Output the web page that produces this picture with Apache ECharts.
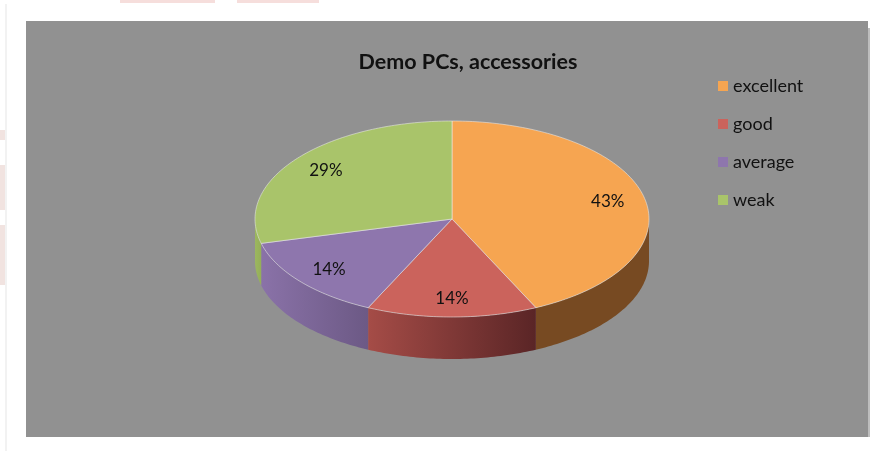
<!DOCTYPE html>
<html>
<head>
<meta charset="utf-8">
<script src="https://cdn.jsdelivr.net/npm/echarts@6/dist/echarts.min.js"></script>
<style>
  html, body { margin: 0; padding: 0; background: #ffffff; }
  #chart { width: 890px; height: 451px; }
</style>
</head>
<body>
<div id="chart"></div>
<script>
// Ratings for demo PCs and accessories (percent of answers)
const categories = ['excellent', 'good', 'average', 'weak'];
const values = [43, 14, 14, 29];
const title = 'Demo PCs, accessories';

// Slice colours: top face, side wall (left -> right shade)
const topColors = ['#F6A551', '#CB635C', '#8E76AD', '#A9C46A'];
const sideColors = [
  ['#774A22', '#774A22'],
  ['#A54C47', '#5A2526'],
  ['#8A72A8', '#6C5985'],
  ['#9CB75F', '#94AE58']
];

// Projected disc geometry
const CX = 452, CY = 219, RX = 197, RY = 98, DEPTH = 42;
const total = values.reduce((a, b) => a + b, 0);

function pt(t, dy) {
  return [CX + RX * Math.sin(t), CY - RY * Math.cos(t) + (dy || 0)];
}
function arc(a0, a1, dy) {
  const pts = [];
  const n = Math.max(2, Math.ceil((a1 - a0) / (Math.PI / 180)));
  for (let k = 0; k <= n; k++) pts.push(pt(a0 + (a1 - a0) * k / n, dy));
  return pts;
}

function makeRender(i) {
  return function (params, api) {
    const v = api.value(0);
    let before = 0;
    for (let k = 0; k < i; k++) before += values[k];
    const a0 = before / total * Math.PI * 2;
    const a1 = (before + v) / total * Math.PI * 2;
    const children = [];

    // Visible wall: part of the rim facing the viewer (90deg .. 270deg)
    const f0 = Math.max(a0, Math.PI / 2), f1 = Math.min(a1, Math.PI * 3 / 2);
    if (f1 > f0) {
      const topArc = arc(f0, f1, 0);
      const botArc = arc(f0, f1, DEPTH).reverse();
      children.push({
        type: 'polygon',
        z2: 1,
        shape: { points: topArc.concat(botArc) },
        style: {
          fill: new echarts.graphic.LinearGradient(0, 0, 1, 0, [
            { offset: 0, color: sideColors[i][0] },
            { offset: 1, color: sideColors[i][1] }
          ]),
          stroke: null
        }
      });
    }

    // Top face
    children.push({
      type: 'polygon',
      z2: 10,
      shape: { points: [[CX, CY]].concat(arc(a0, a1, 0)) },
      style: { fill: topColors[i], stroke: 'rgba(235,235,235,0.55)', lineWidth: 1 }
    });

    // Percent label
    const m = (a0 + a1) / 2;
    const lp = [CX + RX * 0.81 * Math.sin(m), CY - RY * 0.81 * Math.cos(m)];
    children.push({
      type: 'text',
      z2: 20,
      style: {
        x: lp[0], y: lp[1],
        text: v + '%',
        align: 'center', verticalAlign: 'middle',
        fill: '#111111',
        font: '17px Lato, "Open Sans", sans-serif'
      }
    });
    return { type: 'group', children: children };
  };
}

const series = categories.map((name, i) => ({
  name: name,
  type: 'custom',
  coordinateSystem: 'none',
  itemStyle: { color: topColors[i] },
  renderItem: makeRender(i),
  data: [[values[i]]],
  silent: true,
  animation: false
}));

const chart = echarts.init(document.getElementById('chart'), null, { renderer: 'canvas' });
chart.setOption({
  backgroundColor: '#ffffff',
  animation: false,
  title: {
    text: title,
    left: 463, top: 46,
    textAlign: 'center',
    textStyle: { fontFamily: 'Lato, "Open Sans", sans-serif', fontWeight: 'bold', fontSize: 21.5, color: '#111111' }
  },
  legend: {
    orient: 'vertical',
    left: 713, top: 71,
    icon: 'rect',
    itemWidth: 10, itemHeight: 10,
    itemGap: 18,
    selectedMode: false,
    textStyle: { fontFamily: 'Lato, "Open Sans", sans-serif', fontSize: 18, color: '#111111', padding: [0, 0, 0, 0], height: 20, lineHeight: 20 },
    data: categories
  },
  graphic: [
    // faint page decorations around the panel
    { type: 'rect', z: -10, shape: { x: 120, y: 0, width: 95, height: 3 }, style: { fill: '#F6DEDC' } },
    { type: 'rect', z: -10, shape: { x: 237, y: 0, width: 82, height: 3 }, style: { fill: '#F6DEDC' } },
    { type: 'rect', z: -10, shape: { x: 5, y: 4, width: 2, height: 447 }, style: { fill: '#F2F2F2' } },
    { type: 'rect', z: -10, shape: { x: 0, y: 130, width: 5, height: 10 }, style: { fill: '#F1E3E0' } },
    { type: 'rect', z: -10, shape: { x: 0, y: 165, width: 5, height: 45 }, style: { fill: '#F1E3E0' } },
    { type: 'rect', z: -10, shape: { x: 0, y: 225, width: 5, height: 60 }, style: { fill: '#F1E3E0' } },
    // panel shadow and panel
    { type: 'rect', z: -9, shape: { x: 29, y: 28, width: 841, height: 409 }, style: { fill: '#BDBDBD' } },
    { type: 'rect', z: -8, shape: { x: 26, y: 21, width: 842, height: 416 }, style: { fill: '#919191' } }
  ],
  series: series
});
</script>
</body>
</html>
